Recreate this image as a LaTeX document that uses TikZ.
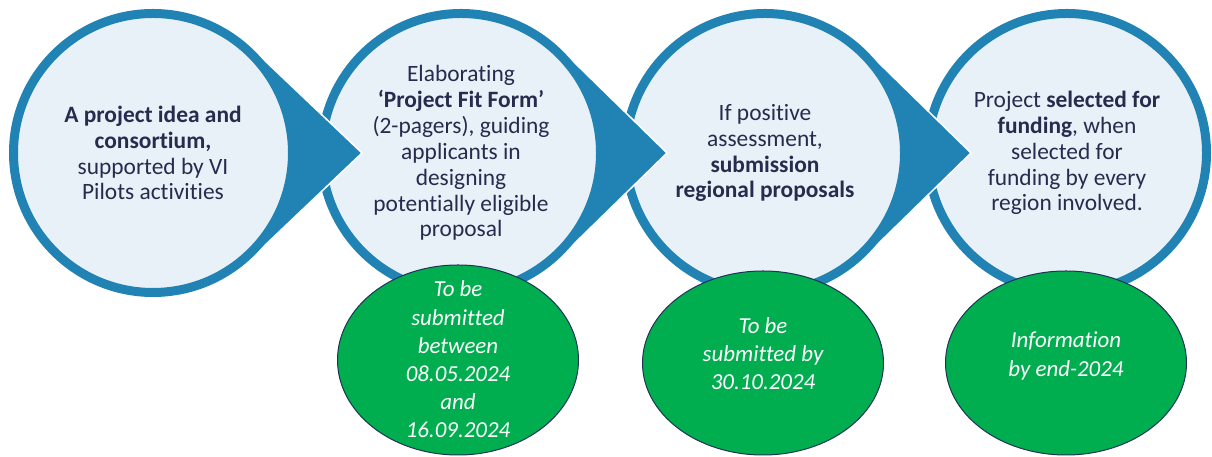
\documentclass[tikz,border=0pt]{standalone}
\usepackage{fontspec}
\setmainfont{Carlito}[Ligatures={TeX,NoCommon}]
\usetikzlibrary{shapes.geometric}
\definecolor{ringblue}{RGB}{33,131,179}
\definecolor{paleblue}{RGB}{232,241,248}
\definecolor{inkblue}{RGB}{37,44,77}
\definecolor{fundgreen}{RGB}{0,173,79}
\definecolor{ovalline}{RGB}{30,52,84}

\begin{document}
\begin{tikzpicture}[x=1bp,y=1bp]
	\tikzset{stepcircle/.style={circle,draw=ringblue,line width=9bp,fill=paleblue,minimum size=279bp,inner sep=0pt,align=center,text=inkblue,font=\fontsize{23.5}{26}\selectfont}}
	\tikzset{pointer/.style={fill=ringblue,draw=white,line width=1.5bp,line join=round}}
	\tikzset{dateoval/.style={ellipse,draw=ovalline,line width=1bp,fill=fundgreen,minimum width=241bp,inner sep=0pt}}
	\tikzset{datetext/.style={align=center,text=white,font=\itshape\fontsize{23}{28.3}\selectfont}}
	\useasboundingbox (0,0) rectangle (1212,457);
	\coordinate (c1) at (153,304);
	\coordinate (c2) at (461,304);
	\coordinate (c3) at (765,304);
	\coordinate (c4) at (1067,304);
	\coordinate (t1) at (362,304);
	\coordinate (t2) at (667,304);
	\coordinate (t3) at (971,304);
	% right to left, so that every pointer lies over the next circle
	\node[stepcircle] (s4) at (c4) {Project \textbf{selected for}\\\textbf{funding}, when\\selected for\\funding by every\\region involved.};
	\filldraw[pointer] (t3) -- ([shift={(46:144)}]c3) -- ([shift={(-46:144)}]c3) -- cycle;
	\node[stepcircle] (s3) at (c3) {If positive\\assessment,\\\textbf{submission}\\\textbf{regional proposals}};
	\filldraw[pointer] (t2) -- ([shift={(46:144)}]c2) -- ([shift={(-46:144)}]c2) -- cycle;
	\node[stepcircle] (s2) at (c2) {Elaborating\\\textbf{`Project Fit Form'}\\(2-pagers), guiding\\applicants in\\designing\\potentially eligible\\proposal};
	\filldraw[pointer] (t1) -- ([shift={(46:144)}]c1) -- ([shift={(-46:144)}]c1) -- cycle;
	\node[stepcircle] (s1) at (c1) {\textbf{A project idea and}\\\textbf{consortium,}\\supported by VI\\Pilots activities};
	% deadlines
	\node[dateoval,minimum height=190bp] (d1) at (458,97) {};
	\node[dateoval,minimum height=184bp] (d2) at (763,94) {};
	\node[dateoval,minimum height=184bp] (d3) at (1066,94) {};
	\node[datetext] (d1text) at ([yshift=0.5]d1.center) {To be\\submitted\\between\\08.05.2024\\and\\16.09.2024};
	\node[datetext] (d2text) at ([yshift=9.5]d2.center) {To be\\submitted by\\30.10.2024};
	\node[datetext] (d3text) at ([yshift=7]d3.center) {Information\\by end-2024};
\end{tikzpicture}
\end{document}
